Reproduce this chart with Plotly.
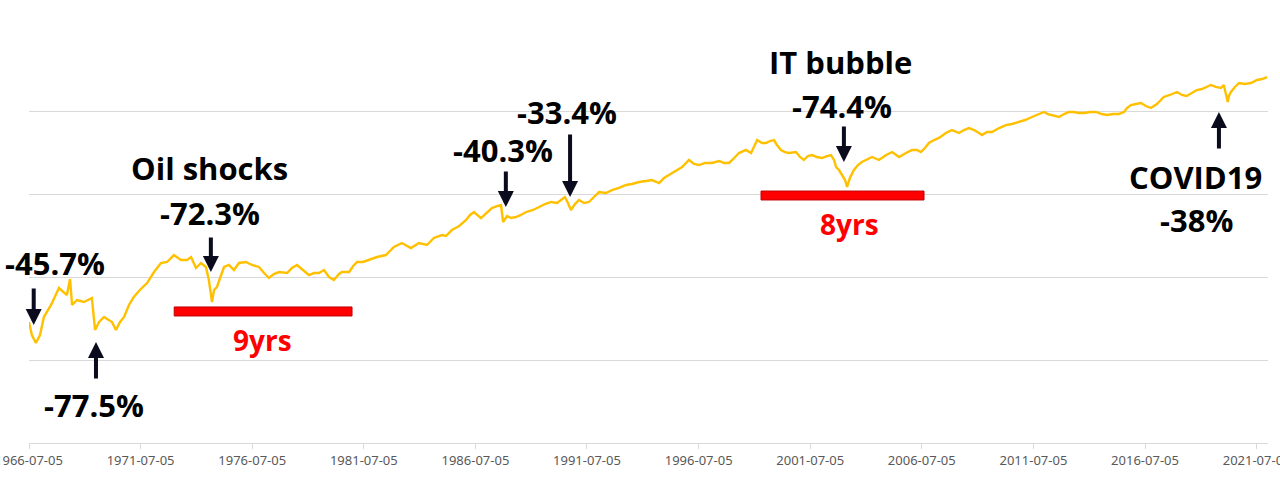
import plotly.graph_objects as go

# ---- data (index level shown on a log scale; values are log10 units) ----
dates = [
    "1966-07-05", "1966-08-21", "1966-10-26", "1967-01-01", "1967-03-06", "1967-07-01", "1967-11-07",
    "1968-01-12", "1968-03-16", "1968-05-07", "1968-06-09", "1968-08-28", "1968-12-20", "1969-04-29",
    "1969-06-20", "1969-08-25", "1969-11-14", "1970-03-23", "1970-05-28", "1970-08-03", "1970-10-08",
    "1970-12-27", "1971-03-16", "1971-06-23", "1971-10-19", "1972-02-10", "1972-06-02", "1972-09-09",
    "1973-01-01", "1973-04-26", "1973-08-03", "1973-10-08", "1973-12-27", "1974-03-20", "1974-06-09",
    "1974-07-26", "1974-09-16", "1974-10-19", "1974-12-05", "1975-01-26", "1975-04-01", "1975-06-20",
    "1975-09-09", "1975-12-02", "1976-03-23", "1976-07-01", "1976-10-22", "1977-01-15", "1977-04-04",
    "1977-06-23", "1977-09-16", "1978-01-26", "1978-04-15", "1978-07-08", "1978-10-15", "1979-01-19",
    "1979-04-11", "1979-07-01", "1979-09-23", "1979-12-13", "1980-03-02", "1980-05-25", "1980-07-11",
    "1980-11-07", "1981-01-12", "1981-03-16", "1981-06-20", "1981-09-27", "1982-02-07", "1982-07-01",
    "1982-11-10", "1983-03-20", "1983-06-13", "1983-08-14", "1983-12-24", "1984-05-03", "1984-08-25",
    "1985-01-04", "1985-03-09", "1985-06-16", "1985-10-12", "1986-02-03", "1986-04-08", "1986-06-13",
    "1986-10-04", "1987-01-12", "1987-04-01", "1987-06-23", "1987-08-28", "1987-10-01", "1987-12-05",
    "1988-02-10", "1988-04-29", "1988-07-19", "1988-10-12", "1989-02-03", "1989-05-10", "1989-08-18",
    "1989-11-25", "1990-03-02", "1990-05-07", "1990-07-08", "1990-08-28", "1990-10-15", "1990-12-20",
    "1991-02-25", "1991-05-18", "1991-08-07", "1991-10-26", "1992-01-19", "1992-05-10", "1992-08-18",
    "1992-12-09", "1993-04-04", "1993-07-11", "1993-11-03", "1994-02-25", "1994-06-02", "1994-09-27",
    "1994-12-16", "1995-03-06", "1995-07-01", "1995-10-08", "1996-01-29", "1996-04-19", "1996-07-11",
    "1996-10-19", "1997-02-10", "1997-06-02", "1997-08-25", "1997-11-14", "1998-02-07", "1998-04-26",
    "1998-08-18", "1998-11-10", "1999-02-18", "1999-05-07", "1999-07-11", "1999-09-16", "1999-11-21",
    "2000-01-07", "2000-03-13", "2000-05-18", "2000-07-22", "2000-11-14", "2001-01-19", "2001-03-23",
    "2001-05-28", "2001-08-03", "2001-10-22", "2002-01-15", "2002-04-04", "2002-06-09", "2002-07-29",
    "2002-09-02", "2002-10-19", "2002-12-09", "2003-01-26", "2003-02-28", "2003-04-15", "2003-06-20",
    "2003-08-25", "2003-10-29", "2004-01-04", "2004-04-11", "2004-08-03", "2004-11-28", "2005-03-06",
    "2005-06-27", "2005-10-19", "2006-01-26", "2006-04-15", "2006-06-20", "2006-08-25", "2006-10-29",
    "2007-01-22", "2007-04-11", "2007-08-03", "2007-11-10", "2008-03-06", "2008-05-25", "2008-08-14",
    "2008-11-07", "2009-01-26", "2009-03-16", "2009-06-05", "2009-08-28", "2009-12-20", "2010-04-11",
    "2010-07-19", "2010-11-14", "2011-02-18", "2011-06-13", "2011-10-04", "2011-12-24", "2012-02-28",
    "2012-05-03", "2012-07-08", "2012-08-25", "2012-11-18", "2013-02-07", "2013-04-29", "2013-07-19",
    "2013-10-12", "2014-01-19", "2014-04-22", "2014-07-29", "2014-10-22", "2015-01-26", "2015-05-03",
    "2015-07-26", "2015-09-13", "2015-11-18", "2016-02-07", "2016-04-29", "2016-07-19", "2016-10-08",
    "2017-01-15", "2017-05-07", "2017-08-14", "2017-12-09", "2018-02-28", "2018-05-18", "2018-08-10",
    "2018-10-29", "2019-01-22", "2019-04-11", "2019-06-16", "2019-09-05", "2019-11-28", "2020-01-15",
    "2020-03-19", "2020-04-08", "2020-05-10", "2020-07-15", "2020-09-20", "2020-12-27", "2021-04-04",
    "2021-07-11", "2021-10-01", "2021-12-24",
]

log_index = [
    1.461, 1.304, 1.208, 1.304, 1.522, 1.667, 1.872,
    1.824, 1.787, 1.981, 1.667, 1.727, 1.703, 1.751,
    1.365, 1.461, 1.522, 1.461, 1.365, 1.461, 1.522,
    1.667, 1.763, 1.848, 1.932, 2.065, 2.174, 2.186,
    2.270, 2.210, 2.210, 2.246, 2.113, 2.174, 2.126,
    1.969, 1.703, 1.848, 1.884, 1.993, 2.126, 2.150,
    2.089, 2.174, 2.186, 2.150, 2.126, 2.053, 1.993,
    2.041, 2.065, 2.053, 2.113, 2.150, 2.089, 2.029,
    2.053, 2.053, 2.089, 2.005, 1.969, 2.041, 2.065,
    2.065, 2.138, 2.186, 2.186, 2.210, 2.246, 2.270,
    2.367, 2.415, 2.379, 2.355, 2.415, 2.391, 2.476,
    2.512, 2.500, 2.572, 2.621, 2.693, 2.754, 2.790,
    2.717, 2.790, 2.838, 2.862, 2.874, 2.669, 2.741,
    2.717, 2.729, 2.754, 2.790, 2.814, 2.850, 2.886,
    2.911, 2.898, 2.935, 2.971, 2.898, 2.814, 2.886,
    2.935, 2.898, 2.911, 2.971, 3.031, 3.019, 3.055,
    3.080, 3.116, 3.128, 3.152, 3.164, 3.176, 3.140,
    3.200, 3.237, 3.285, 3.333, 3.418, 3.370, 3.357,
    3.382, 3.382, 3.406, 3.382, 3.382, 3.442, 3.502,
    3.539, 3.502, 3.659, 3.623, 3.623, 3.647, 3.659,
    3.599, 3.539, 3.514, 3.502, 3.514, 3.454, 3.418,
    3.466, 3.478, 3.454, 3.442, 3.466, 3.478, 3.418,
    3.333, 3.297, 3.237, 3.176, 3.092, 3.200, 3.297,
    3.357, 3.394, 3.418, 3.454, 3.418, 3.478, 3.514,
    3.454, 3.502, 3.539, 3.539, 3.514, 3.563, 3.623,
    3.659, 3.684, 3.744, 3.780, 3.744, 3.780, 3.804,
    3.780, 3.744, 3.720, 3.756, 3.756, 3.804, 3.840,
    3.853, 3.877, 3.901, 3.937, 3.973, 3.998, 3.973,
    3.961, 3.949, 3.937, 3.973, 3.998, 3.998, 3.985,
    3.985, 3.998, 3.998, 3.973, 3.961, 3.973, 3.973,
    3.998, 4.046, 4.082, 4.094, 4.106, 4.070, 4.046,
    4.094, 4.179, 4.203, 4.239, 4.203, 4.191, 4.227,
    4.263, 4.275, 4.300, 4.324, 4.300, 4.287, 4.324,
    4.118, 4.191, 4.239, 4.300, 4.348, 4.336, 4.348,
    4.384, 4.396, 4.420,
]

tick_dates = ["1966-07-05", "1971-07-05", "1976-07-05", "1981-07-05", "1986-07-05", "1991-07-05",
              "1996-07-05", "2001-07-05", "2006-07-05", "2011-07-05", "2016-07-05", "2021-07-05"]

# crash labels: text, label position (date, value), arrow tip (date, value), arrow tail offset in px
crash_labels = ["-45.7%", "-77.5%", "-72.3%", "-40.3%", "-33.4%", "-74.4%", "-38%"]
label_dates = ["1967-09-01", "1969-06-01", "1974-08-13", "1987-10-01", "1990-08-14", "2002-12-06", "2018-11-02"]
label_values = [2.174, 0.459, 2.778, 3.539, 3.998, 4.070, 2.693]
tip_dates = ["1966-09-20", "1969-07-05", "1974-08-28", "1987-11-15", "1990-10-01", "2003-01-07", "2019-10-27"]
tip_values = [1.425, 1.220, 2.065, 2.850, 2.971, 3.394, 3.998]
tail_offsets = [-38, 38, -36, -37, -64, -37, 38]

event_names = ["Oil shocks", "IT bubble", "COVID19"]
event_dates = ["1974-08-13", "2002-11-20", "2018-10-15"]
event_values = [3.321, 4.601, 3.213]

recovery_labels = ["9yrs", "8yrs"]
recovery_starts = ["1973-01-05", "1999-04-22"]
recovery_ends = ["1980-12-24", "2006-08-10"]
recovery_low = [1.534, 2.935]
recovery_high = [1.643, 3.043]
recovery_label_dates = ["1976-12-28", "2003-04-15"]
recovery_label_values = [1.244, 2.645]

# ---- figure ----
fig = go.Figure()
fig.add_trace(go.Scatter(x=dates, y=log_index, mode="lines",
                         line=dict(color="#FFC000", width=2.4), hoverinfo="skip"))

TEXT_FONT = dict(family="Open Sans", size=31, color="#000000")
RED_FONT = dict(family="Open Sans", size=28, color="#FF0000")
ARROW_COLOR = "#0b0b1e"

annotations = []
for t, xd, yv in zip(crash_labels, label_dates, label_values):
    annotations.append(dict(x=xd, y=yv, xref="x", yref="y", text="<b>%s</b>" % t, showarrow=False,
                            xanchor="center", yanchor="middle", font=TEXT_FONT))
for t, xd, yv in zip(event_names, event_dates, event_values):
    annotations.append(dict(x=xd, y=yv, xref="x", yref="y", text="<b>%s</b>" % t, showarrow=False,
                            xanchor="center", yanchor="middle", font=TEXT_FONT))
for xd, yv, off in zip(tip_dates, tip_values, tail_offsets):
    annotations.append(dict(x=xd, y=yv, xref="x", yref="y", text="", showarrow=True,
                            ax=0, ay=off, arrowhead=2, arrowsize=0.8, arrowwidth=4,
                            arrowcolor=ARROW_COLOR, standoff=0))
for t, xd, yv in zip(recovery_labels, recovery_label_dates, recovery_label_values):
    annotations.append(dict(x=xd, y=yv, xref="x", yref="y", text="<b>%s</b>" % t, showarrow=False,
                            xanchor="center", yanchor="middle", font=RED_FONT))

shapes = []
for x0, x1, y0, y1 in zip(recovery_starts, recovery_ends, recovery_low, recovery_high):
    shapes.append(dict(type="rect", xref="x", yref="y", x0=x0, x1=x1, y0=y0, y1=y1,
                       fillcolor="#FF0000", line=dict(color="#C00000", width=1), layer="above"))

fig.update_layout(
    width=1280, height=477,
    margin=dict(l=29, r=12, t=29, b=34),
    paper_bgcolor="white", plot_bgcolor="white",
    showlegend=False,
    annotations=annotations, shapes=shapes,
)
fig.update_xaxes(
    type="date", range=["1966-07-05", "2022-01-07"],
    tickvals=tick_dates, ticktext=tick_dates,
    showgrid=False, showline=True, linecolor="#d9d9d9", linewidth=1,
    ticks="outside", ticklen=5, tickcolor="#d9d9d9",
    tickfont=dict(family="Noto Sans", size=13, color="#595959"),
    ticklabeloverflow="allow",
    automargin=False, zeroline=False,
)
fig.update_yaxes(
    range=[0, 5], dtick=1, tick0=0, showticklabels=False,
    showgrid=True, gridcolor="#d9d9d9", gridwidth=1, zeroline=False, showline=False,
    automargin=False,
)

fig.write_html("out.html")
